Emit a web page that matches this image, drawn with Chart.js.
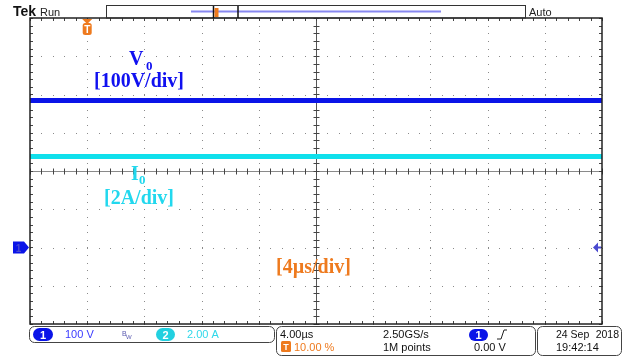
<!DOCTYPE html>
<html>
<head>
<meta charset="utf-8">
<script src="https://cdn.jsdelivr.net/npm/chart.js@4"></script>
<style>
  body { margin: 0; background: #fff; }
  canvas { display: block; }
</style>
</head>
<body>
<canvas id="scope" width="635" height="358"></canvas>
<script>
// scope capture
var timeUs = [-4, 0, 4, 8, 12, 16, 20, 24, 28, 32, 36];
var v0Volts = [384, 384, 384, 384, 384, 384, 384, 384, 384, 384, 384];
var i0Amps = [4.76, 4.76, 4.76, 4.76, 4.76, 4.76, 4.76, 4.76, 4.76, 4.76, 4.76];
var voltsPerDiv = 100;
var ampsPerDiv = 2;
var groundDiv = -2; // channel marker level

var BLUE = "#0a14e8";
var CYAN = "#10e0ec";
var ORANGE = "#ee7a1e";

function toDiv(values, perDiv) {
  return values.map(function (v, i) {
    return { x: timeUs[i], y: v / perDiv + groundDiv };
  });
}

function txt(ctx, s, x, y, font, color, align) {
  ctx.font = font;
  ctx.fillStyle = color;
  ctx.textAlign = align || "left";
  ctx.textBaseline = "alphabetic";
  ctx.fillText(s, x, y);
}

function pill(ctx, x, y, w, h, color, label) {
  ctx.fillStyle = color;
  ctx.beginPath();
  ctx.roundRect(x, y, w, h, h / 2);
  ctx.fill();
  txt(ctx, label, x + w / 2, y + h - 2.5, "bold 11px 'Liberation Sans'", "#fff", "center");
}

function box(ctx, x, y, w, h) {
  ctx.strokeStyle = "#444";
  ctx.lineWidth = 1;
  ctx.beginPath();
  ctx.roundRect(x + 0.5, y + 0.5, w, h, 5);
  ctx.stroke();
}

var gridPlugin = {
  id: "scopeGrid",
  beforeDatasetsDraw: function (chart) {
    var ctx = chart.ctx;
    var xs = chart.scales.x, ys = chart.scales.y;
    var a = chart.chartArea;
    ctx.save();
    var t, d, px, py;
    // dotted graticule
    ctx.fillStyle = "#8a8a8a";
    for (d = -3; d <= 3; d++) {
      if (d === 0) continue;
      py = Math.round(ys.getPixelForValue(d));
      for (t = -4; t <= 36.01; t += 0.8) {
        px = Math.round(xs.getPixelForValue(t));
        ctx.fillRect(px, py, 1, 1);
      }
    }
    for (t = 0; t <= 32.01; t += 4) {
      if (Math.abs(t - 16) < 0.01) continue;
      px = Math.round(xs.getPixelForValue(t));
      for (d = -4; d <= 4.01; d += 0.2) {
        py = Math.round(ys.getPixelForValue(d));
        ctx.fillRect(px, py, 1, 1);
      }
    }
    // centre cross
    var cx = Math.round(xs.getPixelForValue(16)) + 0.5;
    var cy = Math.round(ys.getPixelForValue(0)) + 0.5;
    ctx.strokeStyle = "#8a8a8a";
    ctx.lineWidth = 1;
    ctx.beginPath();
    ctx.moveTo(a.left, cy); ctx.lineTo(a.right, cy);
    ctx.stroke();
    ctx.strokeStyle = "#555";
    ctx.beginPath();
    ctx.moveTo(cx, a.top); ctx.lineTo(cx, a.bottom);
    ctx.stroke();
    ctx.strokeStyle = "#444";
    ctx.beginPath();
    for (t = -4; t <= 36.01; t += 0.8) {
      px = Math.round(xs.getPixelForValue(t)) + 0.5;
      ctx.moveTo(px, cy - 3); ctx.lineTo(px, cy + 3);
      ctx.moveTo(px, a.top); ctx.lineTo(px, a.top + 3);
      ctx.moveTo(px, a.bottom); ctx.lineTo(px, a.bottom - 3);
    }
    for (d = -4; d <= 4.01; d += 0.2) {
      py = Math.round(ys.getPixelForValue(d)) + 0.5;
      ctx.moveTo(cx - 3, py); ctx.lineTo(cx + 3, py);
      ctx.moveTo(a.left, py); ctx.lineTo(a.left + 3, py);
      ctx.moveTo(a.right, py); ctx.lineTo(a.right - 3, py);
    }
    ctx.stroke();
    ctx.restore();
  },
  afterDraw: function (chart) {
    var ctx = chart.ctx;
    var xs = chart.scales.x, ys = chart.scales.y;
    var a = chart.chartArea;
    ctx.save();
    // frame
    ctx.strokeStyle = "#222";
    ctx.lineWidth = 1.5;
    ctx.strokeRect(a.left, a.top, a.right - a.left, a.bottom - a.top);

    // top status bar
    txt(ctx, "Tek", 13, 16, "bold 14px 'Liberation Sans Narrow', 'Liberation Sans'", "#111");
    txt(ctx, "Run", 40, 16, "11px 'Liberation Sans'", "#222");
    txt(ctx, "Auto", 529, 16, "11px 'Liberation Sans'", "#222");
    ctx.strokeStyle = "#333";
    ctx.lineWidth = 1;
    ctx.strokeRect(106.5, 5.5, 419, 12.5);
    ctx.strokeStyle = "#8888f0";
    ctx.lineWidth = 2;
    ctx.beginPath();
    ctx.moveTo(191, 11.5); ctx.lineTo(441, 11.5);
    ctx.stroke();
    ctx.strokeStyle = "#111";
    ctx.lineWidth = 1.5;
    ctx.beginPath();
    ctx.moveTo(213.5, 6); ctx.lineTo(213.5, 18);
    ctx.moveTo(238, 6); ctx.lineTo(238, 18);
    ctx.stroke();
    ctx.fillStyle = ORANGE;
    ctx.fillRect(214.5, 8, 4, 9);

    // trigger position marker
    var tx = xs.getPixelForValue(0);
    ctx.fillStyle = ORANGE;
    ctx.beginPath();
    ctx.moveTo(tx - 5, a.top + 1); ctx.lineTo(tx + 5, a.top + 1); ctx.lineTo(tx, a.top + 6);
    ctx.fill();
    ctx.beginPath();
    ctx.roundRect(tx - 4.5, a.top + 5, 9, 12, 2.5);
    ctx.fill();
    txt(ctx, "T", tx, a.top + 15, "bold 10px 'Liberation Sans'", "#fff", "center");

    // channel 1 ground marker and trigger level arrow
    var gy = ys.getPixelForValue(groundDiv);
    ctx.fillStyle = BLUE;
    ctx.beginPath();
    ctx.moveTo(13, gy - 6); ctx.lineTo(24, gy - 6); ctx.lineTo(a.left - 1, gy);
    ctx.lineTo(24, gy + 6); ctx.lineTo(13, gy + 6);
    ctx.closePath();
    ctx.fill();
    txt(ctx, "1", 18.5, gy + 4, "bold 10px 'Liberation Sans'", "#4a4ad0", "center");
    ctx.beginPath();
    ctx.moveTo(a.right - 9, gy); ctx.lineTo(a.right - 4, gy - 5); ctx.lineTo(a.right - 4, gy + 5);
    ctx.closePath();
    ctx.fill();
    ctx.fillRect(a.right - 5, gy - 1, 4, 2);

    // annotations
    var serif = "'Liberation Serif', 'Times New Roman', serif";
    txt(ctx, "V", 129, 65, "bold 20px " + serif, "#1010f0");
    txt(ctx, "0", 146, 70, "bold 13px " + serif, "#1010f0");
    txt(ctx, "[100V/div]", 94, 87, "bold 20px " + serif, "#1010f0");
    txt(ctx, "I", 131, 180, "bold 20px " + serif, "#22d8ee");
    txt(ctx, "0", 139, 184, "bold 13px " + serif, "#22d8ee");
    txt(ctx, "[2A/div]", 104, 204, "bold 20px " + serif, "#22d8ee");
    txt(ctx, "[4\u00b5s/div]", 276, 273, "bold 20px " + serif, ORANGE);

    // bottom readouts
    var sans = "11px 'Liberation Sans'";
    box(ctx, 29, 326, 245, 16);
    pill(ctx, 33, 328, 20, 13, BLUE, "1");
    txt(ctx, "100 V", 65, 338, sans, "#3a3aff");
    txt(ctx, "B", 122, 336, "7px 'Liberation Sans'", "#5a5ab0");
    txt(ctx, "W", 126, 339, "6px 'Liberation Sans'", "#5a5ab0");
    pill(ctx, 156, 328, 19, 13, "#22d0e0", "2");
    txt(ctx, "2.00 A", 187, 338, sans, "#30d8ea");

    box(ctx, 276, 326, 259, 29);
    txt(ctx, "4.00\u00b5s", 280, 338, sans, "#111");
    ctx.fillStyle = ORANGE;
    ctx.beginPath();
    ctx.roundRect(281, 341, 10, 11, 1.5);
    ctx.fill();
    txt(ctx, "T", 286, 350, "bold 9px 'Liberation Sans'", "#fff", "center");
    txt(ctx, "10.00 %", 294, 351, sans, ORANGE);
    txt(ctx, "2.50GS/s", 383, 338, sans, "#111");
    txt(ctx, "1M points", 383, 351, sans, "#111");
    pill(ctx, 469, 329, 19, 12, BLUE, "1");
    ctx.strokeStyle = "#222";
    ctx.lineWidth = 1;
    ctx.beginPath();
    ctx.moveTo(497, 339); ctx.lineTo(501, 339); ctx.lineTo(504, 330); ctx.lineTo(507, 330);
    ctx.stroke();
    txt(ctx, "0.00 V", 474, 351, sans, "#111");

    box(ctx, 537, 326, 84, 29);
    txt(ctx, "24 Sep", 556, 338, "10.5px 'Liberation Sans'", "#111");
    txt(ctx, "2018", 619, 338, "10.5px 'Liberation Sans'", "#111", "right");
    txt(ctx, "19:42:14", 556, 351, sans, "#111");
    ctx.restore();
  }
};

var ctx = document.getElementById("scope").getContext("2d");
var scopeChart = new Chart(ctx, {
  type: "line",
  data: {
    datasets: [
      {
        label: "V0",
        data: toDiv(v0Volts, voltsPerDiv),
        borderColor: BLUE,
        borderWidth: 5,
        pointRadius: 0,
        fill: false,
      },
      {
        label: "I0",
        data: toDiv(i0Amps, ampsPerDiv),
        borderColor: CYAN,
        borderWidth: 5,
        pointRadius: 0,
        fill: false,
      },
    ],
  },
  options: {
    responsive: false,
    animation: false,
    devicePixelRatio: 1,
    layout: { padding: { left: 30, top: 18, right: 33, bottom: 34 } },
    plugins: { legend: { display: false }, tooltip: { enabled: false } },
    scales: {
      x: { type: "linear", min: -4, max: 36, display: false },
      y: { type: "linear", min: -4, max: 4, display: false },
    },
  },
  plugins: [gridPlugin],
});
</script>
</body>
</html>
